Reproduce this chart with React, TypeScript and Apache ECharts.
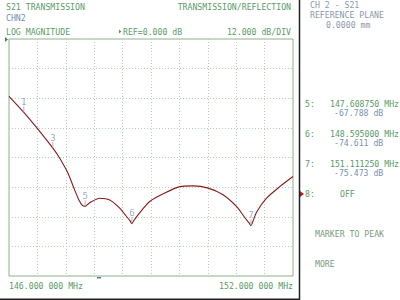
import React, { useEffect, useRef } from "react";
import * as echarts from "echarts";

// Trace S21 (MHz, dB)
const freqMHz = [
  146.0, 146.313, 146.61, 146.927, 147.069, 147.244, 147.386, 147.48, 147.55,
  147.609, 147.7, 147.915, 148.127, 148.339, 148.47, 148.555, 148.595, 148.635,
  148.76, 148.973, 149.29, 149.61, 149.89, 150.21, 150.52, 150.81, 150.98,
  151.07, 151.111, 151.15, 151.23, 151.44, 151.72, 152.0,
];
const magDb = [
  -23.2, -29.7, -36.5, -44.2, -48.2, -54.3, -61.1, -65.3, -67.4,
  -67.8, -66.4, -64.5, -65.2, -68.5, -71.6, -73.6, -74.8, -73.6,
  -70.4, -65.8, -62.4, -59.8, -59.5, -60.4, -63.1, -67.9, -72.3,
  -74.4, -75.6, -74.0, -70.2, -64.5, -59.8, -55.7,
];

// Markers on trace
const markerIds = ["1", "3", "5", "6", "7"];
const markerFreq = [146.313, 146.927, 147.60875, 148.595, 151.11125];
const markerDb = [-29.7, -44.2, -67.788, -74.611, -75.473];

// Readouts in side panel
const readoutIds = ["5:", "6:", "7:"];
const readoutFreq = ["147.608750 MHz", "148.595000 MHz", "151.111250 MHz"];
const readoutDb = ["-67.788 dB", "-74.611 dB", "-75.473 dB"];

// Axis
const xMin = 146;
const xMax = 152;
const yMin = -96;
const yMax = 0;
const yStep = 12;
const xEndLabels = ["146.000 000 MHz", "152.000 000 MHz"];

const FONT = "DejaVu Sans Mono";
const FS = 8.2;
const GREEN = "#5b9a68";
const BLUEGRAY = "#7b93ad";
const GRAY = "#8b98a8";

function txt(text: string, x: number, y: number, fill: string, align: string = "left") {
  return {
    type: "text",
    x,
    y,
    style: {
      text,
      fill,
      font: `${FS}px "${FONT}"`,
      textAlign: align,
      textVerticalAlign: "middle",
    },
  };
}

export default function App() {
  const ref = useRef<HTMLDivElement>(null);
  useEffect(() => {
    if (!ref.current) return;
    const chart = echarts.init(ref.current, undefined, { renderer: "svg" });
    const trace = freqMHz.map((f, i) => [f, magDb[i]]);
    const marks = markerFreq.map((f, i) => ({ value: [f, markerDb[i]], name: markerIds[i] }));

    const graphics: any[] = [
      txt("S21 TRANSMISSION", 6, 7, GREEN),
      txt("CHN2", 6, 18, "#6f8fae"),
      txt("LOG MAGNITUDE", 6, 31.5, GREEN),
      txt("REF=0.000 dB", 123, 31.5, GREEN),
      txt("TRANSMISSION/REFLECTION", 291, 7, GREEN, "right"),
      txt("12.000 dB/DIV", 291, 31.5, GREEN, "right"),
      txt("CH 2 - S21", 310, 5, GRAY),
      txt("REFERENCE PLANE", 310, 15, GRAY),
      txt("0.0000 mm", 326, 25, GRAY),
      txt("8:", 305, 194.3, GREEN),
      txt("OFF", 340, 194.3, GREEN),
      txt("MARKER TO PEAK", 315, 234.3, "#7a9a80"),
      txt("MORE", 315, 264, "#7a9a80"),
      {
        type: "polygon",
        shape: { points: [[5, 37], [8, 39.5], [5, 42]] },
        style: { fill: "#3f8a4a" },
      },
      {
        type: "polygon",
        shape: { points: [[119, 29.5], [121.5, 31.5], [119, 33.5]] },
        style: { fill: GREEN },
      },
      {
        type: "polygon",
        shape: { points: [[300, 191], [304, 194], [300, 197]] },
        style: { fill: "#b02020" },
      },
      {
        type: "rect",
        shape: { x: 97, y: 277, width: 4, height: 1.5 },
        style: { fill: "#5a7fa8" },
      },
      {
        type: "line",
        shape: { x1: 299.5, y1: 0, x2: 299.5, y2: 300 },
        style: { stroke: "#222", lineWidth: 1.5 },
      },
      {
        type: "line",
        shape: { x1: 0, y1: 299.3, x2: 299.5, y2: 299.3 },
        style: { stroke: "#222", lineWidth: 1.5 },
      },
    ];
    readoutIds.forEach((id, i) => {
      const y = 104.3 + i * 30;
      graphics.push(txt(id, 305, y, GREEN));
      graphics.push(txt(readoutFreq[i], 330, y, GREEN));
      graphics.push(txt(readoutDb[i], 334, y + 9, BLUEGRAY));
    });

    chart.setOption({
      animation: false,
      backgroundColor: "#ffffff",
      grid: {
        left: 9,
        top: 39,
        right: 107,
        bottom: 24,
        show: true,
        borderColor: "#8fb08f",
        borderWidth: 1,
        backgroundColor: "transparent",
      },
      xAxis: [
        {
          type: "value",
          min: xMin,
          max: xMax,
          axisLine: { show: false },
          axisTick: { show: false },
          splitLine: { show: false },
          axisLabel: {
            show: true,
            showMinLabel: true,
            showMaxLabel: true,
            alignMinLabel: "left",
            alignMaxLabel: "right",
            margin: 6,
            fontFamily: FONT,
            fontSize: FS,
            color: GREEN,
            formatter: (v: number) =>
              Math.abs(v - xMin) < 1e-9 ? xEndLabels[0] : Math.abs(v - xMax) < 1e-9 ? xEndLabels[1] : "",
          },
        },
        {
          type: "value",
          min: 0,
          max: 10,
          interval: 1,
          position: "top",
          axisLine: { show: false },
          axisTick: { show: false },
          axisLabel: { show: false },
          splitLine: {
            show: true,
            showMinLine: false,
            showMaxLine: false,
            lineStyle: { color: "#b5d0b5", type: [1, 2], width: 1 },
          },
        },
      ],
      yAxis: {
        type: "value",
        min: yMin,
        max: yMax,
        interval: yStep,
        axisLine: { show: false },
        axisTick: { show: false },
        axisLabel: { show: false },
        splitLine: {
          show: true,
          showMinLine: false,
          showMaxLine: false,
          lineStyle: { color: "#b5d0b5", type: [1, 2], width: 1 },
        },
      },
      series: [
        {
          type: "line",
          xAxisIndex: 0,
          data: trace,
          smooth: 0.25,
          showSymbol: false,
          lineStyle: { color: "#8b1a1a", width: 1.1 },
          z: 3,
        },
        {
          type: "scatter",
          xAxisIndex: 0,
          data: marks,
          symbol: "rect",
          symbolSize: [1, 6],
          symbolOffset: [0, -3],
          itemStyle: { color: "#8fa8c8" },
          label: {
            show: true,
            position: "top",
            distance: 0,
            formatter: (p: any) => p.name,
            fontFamily: FONT,
            fontSize: 9,
            color: "#7f98b8",
          },
          z: 4,
        },
      ],
      graphic: graphics,
    });
    return () => chart.dispose();
  }, []);
  return (
    <div
      ref={ref}
      style={{ position: "fixed", left: 0, top: 0, width: 400, height: 300 }}
    />
  );
}
